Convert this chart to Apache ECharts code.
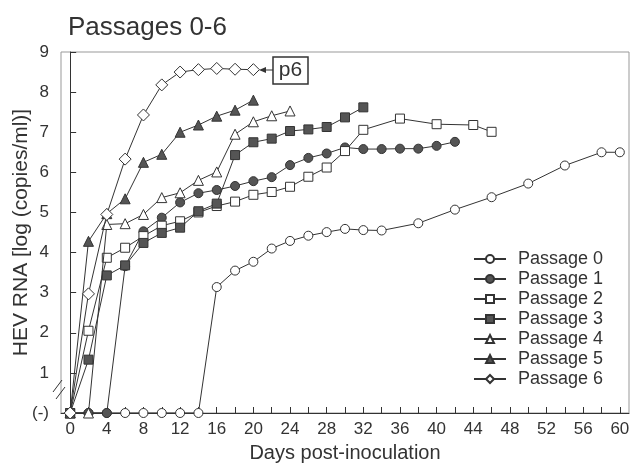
<!DOCTYPE html>
<html><head><meta charset="utf-8">
<script src="https://cdn.jsdelivr.net/npm/echarts@6/dist/echarts.min.js"></script>
<style>html,body{margin:0;padding:0;background:#fff}#c{width:631px;height:464px}</style>
</head><body><div id="c"></div>
<script>
var seriesNames = ['Passage 0','Passage 1','Passage 2','Passage 3','Passage 4','Passage 5','Passage 6'];
var p0Days = [0,2,4,6,8,10,12,14,16,18,20,22,24,26,28,30,32,34,38,42,46,50,54,58,60];
var p0Vals = [0,0,0,0,0,0,0,0,3.14,3.55,3.77,4.1,4.29,4.42,4.51,4.59,4.56,4.55,4.73,5.07,5.38,5.72,6.17,6.5,6.5];
var p1Days = [0,2,4,6,8,10,12,14,16,18,20,22,24,26,28,30,32,34,36,38,40,42];
var p1Vals = [0,0,0,3.66,4.53,4.87,5.25,5.48,5.56,5.66,5.78,5.88,6.18,6.36,6.47,6.62,6.58,6.58,6.59,6.59,6.66,6.76];
var p2Days = [0,2,4,6,8,10,12,14,16,18,20,22,24,26,28,30,32,36,40,44,46];
var p2Vals = [0,2.05,3.87,4.12,4.41,4.67,4.78,5.0,5.16,5.27,5.44,5.51,5.64,5.89,6.12,6.53,7.06,7.34,7.2,7.18,7.01];
var p3Days = [0,2,4,6,8,10,12,14,16,18,20,22,24,26,28,30,32];
var p3Vals = [0,1.33,3.43,3.68,4.24,4.49,4.62,5.03,5.22,6.43,6.75,6.84,7.03,7.07,7.13,7.37,7.62];
var p4Days = [0,2,4,6,8,10,12,14,16,18,20,22,24];
var p4Vals = [0,0,4.7,4.72,4.95,5.37,5.49,5.8,6.01,6.95,7.26,7.41,7.53];
var p5Days = [0,2,4,6,8,10,12,14,16,18,20];
var p5Vals = [0,4.28,4.97,5.34,6.25,6.45,7.0,7.18,7.4,7.55,7.8];
var p6Days = [0,2,4,6,8,10,12,14,16,18,20];
var p6Vals = [0,2.97,4.95,6.33,7.43,8.18,8.5,8.56,8.59,8.57,8.56];
var xTickDays = [0,2,4,6,8,10,12,14,16,18,20,22,24,26,28,30,32,34,36,38,40,42,44,46,48,50,52,54,56,58,60];
var xLabelDays = [0,4,8,12,16,20,24,28,32,36,40,44,48,52,56,60];
var zeroLabel = '(-)';
var annotationText = 'p6';

var allDays = [p0Days,p1Days,p2Days,p3Days,p4Days,p5Days,p6Days];
var allVals = [p0Vals,p1Vals,p2Vals,p3Vals,p4Vals,p5Vals,p6Vals];
var symbols = ['circle','circle','rect','rect','triangle','triangle','diamond'];
var sizes = [9,9,9,9,10,10,12];
var filled = [false,true,false,true,false,true,false];
var FONT = '"Liberation Sans", Arial, sans-serif';
var LINE = '#333';
var FILL = '#555';

var series = seriesNames.map(function(n,i){
  return {
    name: n, type: 'line',
    data: allDays[i].map(function(d,j){ return [d, allVals[i][j]]; }),
    symbol: symbols[i], symbolSize: sizes[i], showAllSymbol: true,
    lineStyle: {color: LINE, width: 1},
    itemStyle: {color: filled[i] ? FILL : '#fff', borderColor: LINE, borderWidth: 1},
    emphasis: {disabled: true}, animation: false, z: 2 + i
  };
});

var chart = echarts.init(document.getElementById('c'), null, {renderer: 'canvas'});
chart.setOption({
  animation: false,
  backgroundColor: '#fff',
  textStyle: {fontFamily: FONT},
  title: {text: 'Passages 0-6', left: 63, top: 10,
    textStyle: {fontFamily: FONT, fontSize: 26, fontWeight: 'normal', color: '#333'}},
  grid: {left: 61, right: 2, top: 52, bottom: 51, show: true, borderColor: '#999', borderWidth: 1,
    containLabel: false, outerBoundsMode: 'none'},
  legend: {
    data: seriesNames, orient: 'vertical', left: 468, top: 245,
    itemWidth: 32, itemHeight: 10, itemGap: 2,
    textStyle: {fontFamily: FONT, fontSize: 18, color: '#333', padding: [0,0,0,7]},
    selectedMode: false
  },
  xAxis: {
    type: 'value', min: -1, max: 61,
    name: 'Days post-inoculation', nameLocation: 'middle', nameGap: 30, nameMoveOverlap: false,
    nameTextStyle: {fontFamily: FONT, fontSize: 20, color: '#333'},
    axisLine: {show: true, lineStyle: {color: '#333', width: 1}},
    axisTick: {show: true, inside: true, length: 6, customValues: xTickDays, lineStyle: {color: '#333'}},
    axisLabel: {customValues: xLabelDays, fontFamily: FONT, fontSize: 17, color: '#333', margin: 8},
    splitLine: {show: false}
  },
  yAxis: {
    type: 'value', min: 0, max: 9, interval: 1,
    name: 'HEV RNA [log (copies/ml)]', nameLocation: 'middle', nameGap: 29, nameMoveOverlap: false,
    nameTextStyle: {fontFamily: FONT, fontSize: 21, color: '#333'},
    axisLine: {show: true, lineStyle: {color: '#333', width: 1}},
    axisTick: {show: true, inside: true, length: 6, lineStyle: {color: '#333'}},
    axisLabel: {fontFamily: FONT, fontSize: 17, color: '#333', margin: 12,
      formatter: function(v){ return v === 0 ? zeroLabel : String(v); }},
    splitLine: {show: false}
  },
  graphic: [
    {type: 'line', shape: {x1: 53, y1: 392, x2: 62, y2: 380}, style: {stroke: '#333', lineWidth: 1}},
    {type: 'line', shape: {x1: 56, y1: 399, x2: 65, y2: 387}, style: {stroke: '#333', lineWidth: 1}},
    {type: 'rect', shape: {x: 273, y: 57, width: 35, height: 27}, style: {fill: '#fff', stroke: '#333', lineWidth: 1.5}},
    {type: 'text', x: 290.5, y: 70.5, style: {text: annotationText, fontFamily: FONT, fontSize: 21, fill: '#333', align: 'center', verticalAlign: 'middle'}},
    {type: 'line', shape: {x1: 273, y1: 70, x2: 262, y2: 70}, style: {stroke: '#333', lineWidth: 1}},
    {type: 'polygon', shape: {points: [[259,70],[266,67],[266,73]]}, style: {fill: '#333'}}
  ],
  series: series
});
</script></body></html>
